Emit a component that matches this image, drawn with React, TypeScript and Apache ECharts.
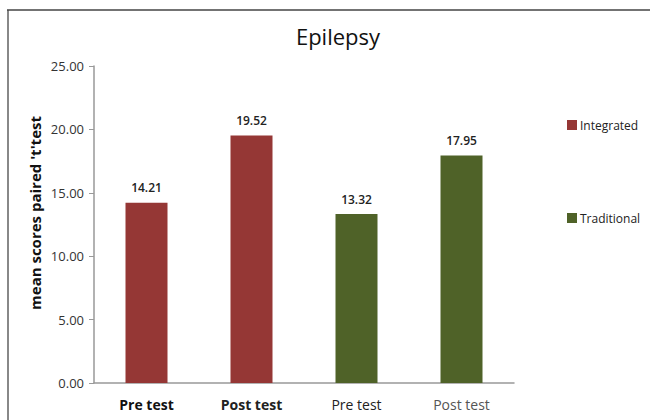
import React, { useEffect, useRef } from "react";
import * as echarts from "echarts";

const categories = ["Pre test", "Post test", "Pre test", "Post test"];
const integratedValues = [14.21, 19.52, null, null];
const traditionalValues = [null, null, 13.32, 17.95];
const seriesNames = ["Integrated", "Traditional"];
const chartTitle = "Epilepsy";
const yAxisTitle = "mean scores paired 't'test";

export default function App() {
  const ref = useRef<HTMLDivElement>(null);
  useEffect(() => {
    if (!ref.current) return;
    const chart = echarts.init(ref.current, null, { renderer: "svg" });
    const barLabel = {
      show: true,
      position: "top",
      distance: 9,
      fontSize: 12,
      fontWeight: 600,
      color: "#222",
      fontFamily: "Open Sans",
      formatter: (p: any) => Number(p.value).toFixed(2),
    };
    chart.setOption({
      animation: false,
      backgroundColor: "#fff",
      textStyle: { fontFamily: "Open Sans" },
      title: {
        text: chartTitle,
        left: 333,
        textAlign: "center",
        top: 20,
        textStyle: { fontSize: 22, fontWeight: "normal", color: "#111", fontFamily: "Open Sans" },
      },
      graphic: [
        {
          type: "line",
          shape: { x1: 8, y1: 10, x2: 8, y2: 420 },
          style: { stroke: "#888", lineWidth: 2 },
          silent: true,
        },
        {
          type: "line",
          shape: { x1: 7, y1: 10, x2: 650, y2: 10 },
          style: { stroke: "#444", lineWidth: 1.5 },
          silent: true,
        },
        {
          type: "text",
          x: 35,
          y: 213,
          rotation: Math.PI / 2,
          style: {
            text: yAxisTitle,
            fontSize: 15,
            fontWeight: "bold",
            fill: "#111",
            fontFamily: "Open Sans",
            align: "center",
            verticalAlign: "middle",
          },
          silent: true,
        },
      ],
      legend: [
        {
          data: [seriesNames[0]],
          left: 562,
          top: 114,
          itemWidth: 10,
          itemHeight: 10,
          icon: "rect",
          itemGap: 4,
          textStyle: { fontSize: 12, color: "#222", fontFamily: "Open Sans", padding: [0, 0, 0, -2] },
        },
        {
          data: [seriesNames[1]],
          left: 562,
          top: 207,
          itemWidth: 10,
          itemHeight: 10,
          icon: "rect",
          textStyle: { fontSize: 12, color: "#222", fontFamily: "Open Sans", padding: [0, 0, 0, -2] },
        },
      ],
      grid: { left: 94, top: 66, width: 420, height: 317, containLabel: false },
      xAxis: {
        type: "category",
        data: categories,
        axisLine: { lineStyle: { color: "#999", width: 1.5 } },
        axisTick: { show: false },
        axisLabel: {
          interval: 0,
          margin: 14,
          fontSize: 14,
          fontFamily: "Open Sans",
          formatter: (v: string, i: number) => `{s${i}|${v}}`,
          rich: {
            s0: { fontSize: 14, fontWeight: "bold", color: "#111", fontFamily: "Open Sans" },
            s1: { fontSize: 14, fontWeight: "bold", color: "#222", fontFamily: "Open Sans" },
            s2: { fontSize: 14, fontWeight: "normal", color: "#222", fontFamily: "Open Sans" },
            s3: { fontSize: 14, fontWeight: "normal", color: "#555", fontFamily: "Open Sans" },
          },
        },
      },
      yAxis: {
        type: "value",
        min: 0,
        max: 25,
        interval: 5,
        axisLine: { show: true, lineStyle: { color: "#999", width: 1.5 } },
        axisTick: { show: true, inside: false, length: 5, lineStyle: { color: "#999" } },
        splitLine: { show: false },
        axisLabel: {
          fontSize: 13,
          color: "#333",
          margin: 10,
          fontFamily: "Open Sans",
          formatter: (v: number) => v.toFixed(2),
        },
      },
      series: [
        {
          name: seriesNames[0],
          type: "bar",
          stack: "s",
          data: integratedValues,
          barWidth: 42,
          itemStyle: { color: "#953735" },
          label: barLabel,
        },
        {
          name: seriesNames[1],
          type: "bar",
          stack: "s",
          data: traditionalValues,
          barWidth: 42,
          itemStyle: { color: "#4F6228" },
          label: barLabel,
        },
      ],
    });
    return () => chart.dispose();
  }, []);
  return (
    <div
      ref={ref}
      style={{ position: "fixed", left: 0, top: 0, width: 650, height: 420 }}
    />
  );
}
